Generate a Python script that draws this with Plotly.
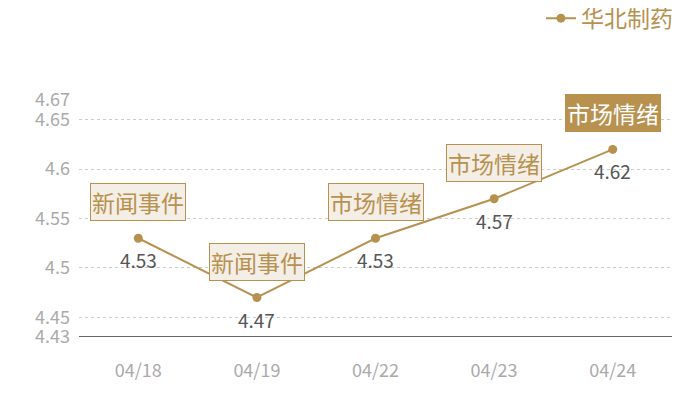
import plotly.graph_objects as go

# data
dates = ['04/18', '04/19', '04/22', '04/23', '04/24']
prices = [4.53, 4.47, 4.53, 4.57, 4.62]
events = ['新闻事件', '新闻事件', '市场情绪', '市场情绪', '市场情绪']
highlight = [False, False, False, False, True]
y_ticks = [4.43, 4.45, 4.5, 4.55, 4.6, 4.65, 4.67]
y_tick_text = ['4.43', '4.45', '4.5', '4.55', '4.6', '4.65', '4.67']

gold = '#b8914f'
cjk = 'Noto Sans CJK SC'

fig = go.Figure()
fig.add_trace(go.Scatter(
    x=dates, y=prices, name='华北制药',
    mode='lines+markers',
    line=dict(color=gold, width=2),
    marker=dict(color=gold, size=9),
))

# value labels under the points
for d, p in zip(dates, prices):
    fig.add_annotation(
        x=d, y=p, xref='x', yref='y', text=f'{p:.2f}', showarrow=False,
        yanchor='top', yshift=-6,
        font=dict(size=19, color='#555555', family=cjk),
    )

# event boxes above the points
for d, p, ev, hl in zip(dates, prices, events, highlight):
    fig.add_annotation(
        x=d, y=p, xref='x', yref='y', text=ev, showarrow=False,
        yanchor='bottom', yshift=17,
        font=dict(size=23, color='white' if hl else gold, family=cjk),
        bgcolor=gold if hl else '#f3eee6',
        bordercolor=gold, borderwidth=1, borderpad=1,
    )

fig.update_layout(
    width=700, height=400,
    margin=dict(l=71, r=36, t=92, b=71, autoexpand=False),
    paper_bgcolor='white', plot_bgcolor='white',
    font=dict(family=cjk),
    showlegend=True,
    legend=dict(x=1.01, y=1.345, xanchor='right', yanchor='middle',
                font=dict(size=23, color=gold, family=cjk),
                itemwidth=30),
    xaxis=dict(
        type='category', range=[-0.5, 4.5], automargin=False,
        showgrid=False, showline=False, zeroline=False,
        tickfont=dict(size=18, color='#aaaaaa', family=cjk),
        ticks='', ticklabelstandoff=21,
    ),
    yaxis=dict(
        range=[4.43, 4.67], tickvals=y_ticks, ticktext=y_tick_text, automargin=False,
        showgrid=True, gridcolor='#cccccc', griddash='dot', gridwidth=1,
        zeroline=False, showline=False,
        tickfont=dict(size=18, color='#aaaaaa', family=cjk),
        ticks='', ticklabelstandoff=8,
    ),
)

# solid base line at the bottom of the plot area
fig.add_shape(type='line', xref='paper', yref='y', x0=0, x1=1, y0=4.43, y1=4.43,
              line=dict(color='#333333', width=1.5))

fig.write_html("out.html")
